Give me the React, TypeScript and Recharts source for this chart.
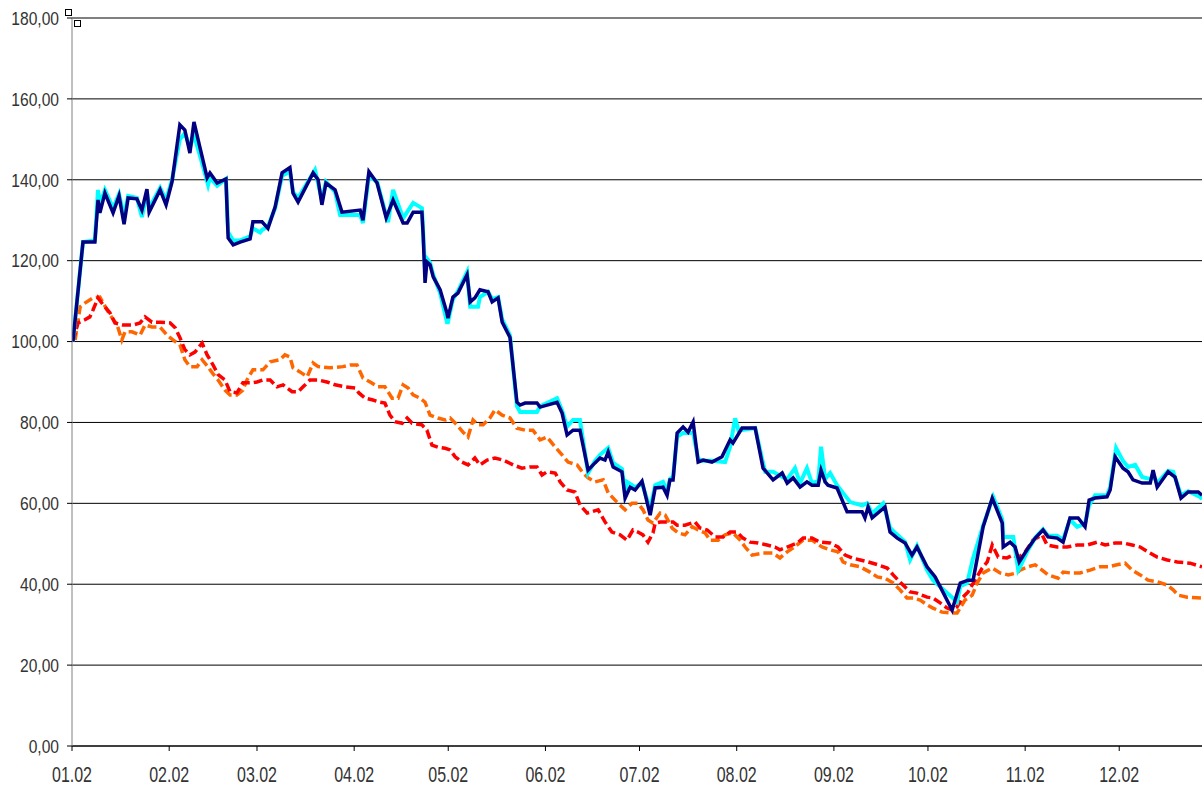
import React from 'react';
import { LineChart, Line, XAxis, YAxis, CartesianGrid } from 'recharts';

// x = day of year (0 = 1 Jan), value = index level
const monthStarts = [0, 31, 59, 90, 120, 151, 181, 212, 243, 273, 304, 334];
const monthLabels = ['01.02', '02.02', '03.02', '04.02', '05.02', '06.02', '07.02', '08.02', '09.02', '10.02', '11.02', '12.02'];
const yTicks = [0, 20, 40, 60, 80, 100, 120, 140, 160, 180];

const navyPoints: [number, number][] = [
  [0.3, 100], [3.5, 124.6], [7.3, 124.6], [8.3, 135], [8.9, 131.8], [10.5, 136.7], [13.1, 131.8], [15.0, 136], [16.6, 129], [17.9, 135.5],
  [20.7, 135.3], [22.3, 132.5], [23.9, 137.7], [24.6, 132], [28.1, 137.5], [30.0, 133.8], [31.9, 139.5], [34.4, 153.6], [36.0, 152.3], [37.6, 146.6],
  [38.9, 154.3], [40.8, 148], [43.1, 140.5], [44.0, 141.7], [46.3, 139.2], [49.1, 140.2], [49.8, 125.6], [51.4, 123.9], [53.6, 124.6], [56.8, 125.4],
  [57.7, 129.6], [60.6, 129.6], [62.5, 128], [64.8, 133.3], [67.0, 141.7], [69.5, 143], [70.5, 136.7], [72.1, 134.5], [76.9, 141.7], [78.5, 140],
  [79.7, 133.8], [81.0, 139.2], [83.9, 137.5], [86.1, 132], [91.9, 132.5], [92.8, 130], [94.7, 142], [97.3, 139.2], [100.2, 130.6], [102.4, 135],
  [105.6, 129.3], [106.9, 129.3], [108.8, 132], [111.6, 132], [112.0, 126.4], [112.6, 114.5], [113.2, 119.7], [114.2, 119], [115.2, 116], [117.4, 112.8],
  [119.6, 107], [119.9, 105.8], [121.5, 111], [123.1, 112], [126.0, 116.5], [127.0, 109.8], [128.5, 110.8], [130.1, 112.8], [132.7, 112.3], [134.0, 109.8],
  [135.9, 110.8], [137.2, 104.8], [139.7, 101], [141.9, 85], [142.9, 84.3], [144.5, 84.8], [148.3, 84.8], [149.3, 83.8], [154.7, 85], [156.3, 82.3],
  [157.9, 76.9], [159.8, 78.1], [162.0, 78.1], [164.6, 68.2], [166.8, 70], [168.4, 71.2], [170.0, 70.7], [171.0, 72.7], [172.6, 69], [175.4, 67.8],
  [176.4, 61.3], [178.0, 64], [179.6, 63.3], [181.8, 65.5], [184.4, 57.1], [186.0, 63.8], [188.5, 64], [189.8, 62], [190.7, 65.8], [191.7, 65.8],
  [193.0, 77.4], [194.9, 78.9], [196.5, 77.6], [198.1, 80.1], [199.7, 70.2], [201.3, 70.7], [204.1, 70.2], [207.3, 71.5], [209.9, 75.7], [210.8, 74.9],
  [213.7, 78.6], [217.9, 78.6], [220.4, 68.7], [223.6, 65.8], [226.5, 67.5], [228.1, 65], [230.0, 66.3], [232.2, 64], [234.4, 65.3], [236.0, 64.5],
  [238.0, 64.5], [238.9, 68.2], [240.2, 65.3], [241.1, 64.5], [244.0, 63.8], [247.2, 57.9], [252.0, 57.9], [252.9, 56.4], [253.9, 59.1], [255.2, 56.4],
  [259.3, 59.1], [260.9, 52.9], [263.2, 51.4], [265.7, 50.2], [267.9, 47.2], [269.5, 49.2], [272.7, 44.3], [275.3, 41.8], [280.7, 33.6], [283.3, 40.3],
  [285.8, 41], [287.4, 41], [290.6, 54.2], [293.5, 61.3], [296.7, 55.1], [297.0, 49.2], [299.2, 50.4], [300.8, 49.2], [302.1, 45.5], [304.6, 48.5],
  [307.2, 51.4], [309.7, 53.4], [311.3, 51.7], [314.2, 51.4], [316.1, 50.4], [318.3, 56.4], [320.9, 56.4], [323.1, 54.2], [324.4, 60.8], [326.3, 61.3],
  [330.1, 61.6], [331.1, 63.3], [332.7, 71.5], [335.2, 68.7], [336.8, 67.8], [338.4, 65.8], [341.3, 65], [343.9, 65], [344.8, 68.2], [346.1, 64],
  [349.6, 67.8], [351.8, 66.5], [353.7, 61.3], [356.0, 62.8], [359.2, 62.8], [360.4, 62],
];

const cyanPoints: [number, number][] = [
  [0.3, 100], [3.5, 124.6], [7.3, 125], [8.3, 137.5], [8.9, 134], [10.5, 137.5], [13.1, 133], [15.0, 136.5], [16.6, 131], [17.9, 136],
  [20.7, 135.5], [22.3, 130.8], [23.9, 137], [24.6, 133], [28.1, 138], [30.0, 135], [31.9, 140], [34.4, 150], [36.0, 151.5], [37.6, 148],
  [38.9, 151], [40.8, 146], [43.4, 138.7], [44.0, 140.5], [46.3, 138.5], [49.1, 140.2], [49.8, 127], [51.4, 125], [53.6, 125], [56.8, 126],
  [57.7, 128], [60.0, 127], [60.6, 127.6], [62.5, 128.5], [64.8, 133], [67.0, 141], [69.5, 142], [70.5, 137], [72.1, 135.5], [77.5, 142.4],
  [79.7, 135], [81.0, 139.5], [83.9, 137], [85.5, 131.3], [91.9, 131.3], [92.8, 129.3], [94.7, 141], [97.3, 139.5], [100.8, 129.5], [102.4, 137.5],
  [105.6, 130.5], [108.8, 134.3], [111.6, 133], [112.0, 127], [112.6, 118], [113.2, 120.5], [114.2, 119.5], [115.2, 116.5], [117.4, 112],
  [119.6, 104.8], [119.9, 104.8], [121.5, 110.5], [123.1, 112.5], [126.0, 117.2], [127.0, 108.6], [129.5, 108.6], [130.1, 111], [132.7, 112.3], [134.0, 110.5],
  [135.9, 111], [137.2, 105.5], [139.7, 101.5], [141.9, 84], [142.9, 82.6], [148.3, 82.6], [149.3, 84], [154.7, 86], [156.3, 83],
  [157.9, 79], [159.8, 80.6], [162.0, 80.6], [164.6, 67.5], [166.8, 70.5], [168.4, 72], [171.0, 73.7], [172.6, 70], [175.4, 68.5],
  [176.4, 62.5], [177.0, 65.3], [179.6, 64], [181.8, 65], [184.4, 58.5], [186.0, 64.5], [188.5, 65.3], [189.8, 63], [190.7, 66], [191.7, 66.5],
  [193.0, 76.5], [194.9, 77.4], [198.1, 77.4], [199.7, 71], [201.3, 70.5], [204.1, 70.5], [208.3, 70.2], [209.9, 74], [211.5, 81], [212.6, 78],
  [217.9, 78.6], [220.4, 70], [221.1, 67.8], [223.6, 67.8], [226.5, 66.5], [228.1, 66], [230.6, 68.7], [232.2, 65], [234.4, 68.7], [236.0, 65],
  [238.0, 65.5], [238.9, 74], [240.2, 66], [241.8, 67.5], [244.0, 64.5], [248.2, 60.3], [252.0, 59.5], [253.6, 60], [255.2, 57.5],
  [258.7, 60], [260.9, 54], [262.5, 52.7], [265.7, 50.5], [267.3, 46], [269.5, 49.5], [272.7, 43.5], [274.6, 41], [282.3, 35.6], [283.3, 39.5],
  [285.5, 40.3], [287.4, 46.5], [290.6, 54.5], [293.8, 61.6], [296.7, 56], [297.0, 51.7], [300.2, 51.7], [301.8, 43.5], [302.4, 44.3], [304.6, 48],
  [307.2, 51.5], [309.7, 53.6], [311.3, 52], [314.2, 52], [316.1, 51], [318.3, 56], [320.6, 54.2], [323.1, 55], [324.4, 59.5], [326.3, 62],
  [330.1, 62], [331.1, 64], [333.0, 73.7], [335.2, 70.5], [336.8, 69], [339.1, 69.5], [341.3, 66.5], [343.9, 66], [344.8, 67], [346.1, 65],
  [349.6, 68], [351.2, 67.8], [353.7, 62], [356.0, 63], [359.8, 61.6], [360.4, 61],
];

const redPoints: [number, number][] = [
  [0.3, 100], [1.9, 104.6], [4.1, 105.4], [5.7, 106.1], [6.7, 107.8], [8.3, 110.8], [9.9, 109.1], [12.1, 107.1], [13.7, 104.6], [16.3, 104.1],
  [19.5, 104.1], [21.7, 104.6], [23.3, 106.1], [25.5, 104.8], [28.1, 104.8], [31.3, 104.6], [32.9, 103.4], [34.4, 101], [36.0, 98], [37.6, 96.7],
  [39.2, 97.4], [41.5, 99.6], [43.1, 96.7], [45.0, 94.2], [46.6, 91.8], [48.8, 90.5], [50.4, 87.6], [52.6, 87.3], [54.5, 89.8], [57.4, 89.8],
  [59.0, 90], [60.9, 90.5], [63.2, 90.5], [65.4, 88.8], [67.3, 89.3], [70.2, 87.6], [72.1, 87.6], [73.7, 88.8], [75.9, 90.5], [78.5, 90.5],
  [81.3, 90], [83.9, 89.3], [87.1, 88.8], [90.3, 88.5], [91.5, 87.3], [93.5, 86], [95.7, 85.6], [98.2, 85], [99.8, 84.8], [101.4, 81.8],
  [103.0, 80.2], [105.3, 79.8], [106.9, 81.1], [108.5, 79.8], [111.6, 79.4], [113.2, 78.1], [114.8, 74.4], [116.7, 73.9], [119.0, 73.6], [120.6, 73.2],
  [122.2, 71.5], [124.4, 70.2], [126.3, 69.5], [128.5, 71.2], [130.1, 69.5], [132.4, 70.7], [134.9, 71.2], [137.5, 70.7], [140.7, 69.5], [143.5, 68.7],
  [146.1, 69], [148.3, 69], [149.9, 67], [151.5, 67.8], [154.1, 67.5], [155.7, 65.3], [157.9, 63.3], [160.4, 62.8], [162.0, 59.6], [164.3, 57.6],
  [167.8, 58.4], [170.0, 55.4], [172.2, 52.9], [174.8, 52.2], [177.0, 50.9], [178.9, 53.4], [180.5, 52.9], [182.1, 52.2], [183.7, 50.4], [185.3, 52.7],
  [186.0, 55.1], [187.6, 55.4], [191.7, 55.4], [193.0, 54.6], [195.5, 54.6], [198.7, 55.4], [200.3, 53.9], [202.6, 53.4], [205.1, 51.7], [207.7, 51.7],
  [209.9, 52.9], [212.1, 52.9], [214.0, 51.4], [216.3, 50.4], [218.8, 50.2], [221.7, 49.7], [224.2, 49.2], [225.8, 48.5], [228.1, 49.2], [231.3, 50.2],
  [233.2, 51.4], [236.0, 51.4], [238.6, 50.4], [241.8, 50.2], [244.3, 49.2], [246.6, 47.2], [248.8, 46.5], [251.4, 46], [254.0, 45.5], [257.1, 44.8],
  [260.0, 44], [261.9, 42.3], [263.5, 41], [265.7, 39.3], [267.3, 38.1], [269.5, 37.8], [272.7, 36.8], [274.6, 36.6], [276.9, 35.4], [279.1, 34.1],
  [280.7, 33.6], [282.3, 34.4], [283.9, 36.6], [285.8, 38.1], [288.0, 41], [290.3, 44], [291.9, 45.5], [293.5, 49.7], [295.4, 46.7], [298.2, 46.5],
  [300.2, 47.2], [301.8, 46.5], [304.0, 48], [306.5, 50.9], [309.4, 52.2], [311.0, 49.7], [314.2, 49.2], [317.4, 49.2], [320.6, 49.7], [323.8, 49.7],
  [327.0, 50.4], [329.5, 49.7], [332.7, 50.2], [335.2, 50.2], [338.1, 49.7], [340.7, 49.2], [343.2, 48], [346.1, 46.7], [349.3, 46], [352.5, 45.5],
  [356.6, 45.2], [360.4, 44.3],
];

const orangePoints: [number, number][] = [
  [1.0, 100.4], [2.6, 108.6], [4.1, 109.5], [6.7, 110.8], [8.9, 111], [12.1, 106.6], [14.4, 104.1], [15.9, 100.4], [16.9, 102.4], [19.1, 102.4],
  [21.7, 101.6], [23.3, 104.1], [25.5, 103.6], [28.1, 103.6], [30.3, 101.6], [32.2, 100.4], [34.4, 99.2], [36.0, 95.5], [37.6, 93.8], [39.9, 93.8],
  [41.5, 95.5], [43.1, 94], [45.0, 92], [46.6, 90.5], [48.8, 88], [50.4, 86.8], [52.6, 86.8], [54.5, 88], [55.8, 90.5], [57.7, 93],
  [60.9, 93], [63.2, 95], [66.3, 95.5], [67.9, 96.7], [69.5, 96.2], [70.5, 93.5], [72.7, 92.5], [75.0, 91.3], [76.9, 94.7], [78.5, 93.8],
  [82.3, 93.5], [86.4, 93.8], [88.7, 94.2], [90.9, 94.2], [92.8, 91], [95.1, 90], [97.6, 88.8], [99.8, 88.8], [102.1, 86], [104.0, 86],
  [105.6, 89.3], [107.2, 88.5], [108.8, 86.8], [111.0, 86], [112.6, 85], [114.2, 81.8], [116.7, 81.1], [119.0, 80.6], [120.6, 81.1], [122.8, 79.4],
  [124.7, 77.6], [126.3, 76.4], [127.9, 80.6], [129.5, 79.4], [131.1, 79.4], [133.3, 81.1], [134.9, 83.1], [137.2, 81.8], [139.7, 81.1], [141.9, 78.6],
  [144.5, 78.1], [147.0, 78.1], [149.3, 75.7], [151.5, 76.4], [154.1, 73.9], [156.3, 72], [158.2, 70.2], [161.1, 69.5], [162.7, 67.8], [164.6, 66.3],
  [166.8, 65.3], [169.4, 65.8], [171.0, 62.6], [173.8, 60.3], [176.4, 58.4], [178.6, 60], [180.5, 60], [182.1, 58.4], [183.7, 55.9], [185.3, 55.1],
  [187.6, 57.6], [189.2, 57.1], [191.4, 53.9], [193.3, 52.7], [195.5, 52.2], [197.8, 54.2], [199.7, 53.4], [201.9, 52.7], [203.5, 50.9], [206.1, 50.9],
  [208.3, 52.2], [210.8, 52.7], [213.1, 50.9], [214.7, 49.2], [216.9, 47.2], [220.4, 47.7], [223.6, 47.7], [225.8, 46.5], [228.1, 48], [230.0, 49],
  [233.2, 50.9], [236.0, 50.9], [239.2, 49.2], [241.8, 48.5], [244.3, 48], [245.9, 45.5], [248.2, 44.8], [251.4, 44.3], [254.5, 43], [256.8, 41.8],
  [259.3, 41.5], [261.9, 40.3], [264.1, 38.6], [266.3, 36.6], [268.3, 36.6], [270.5, 36.1], [272.7, 34.9], [274.6, 34.1], [277.5, 33.1], [280.1, 32.9],
  [282.3, 32.9], [284.8, 36.1], [287.1, 37.3], [288.7, 40.3], [290.6, 42.8], [293.5, 44], [296.0, 42.8], [298.6, 42.3], [301.4, 42.8], [302.4, 43.5],
  [304.9, 44.3], [307.2, 44.8], [309.4, 43.5], [311.3, 42.3], [314.5, 41.5], [316.1, 43], [318.3, 42.8], [321.5, 42.8], [324.7, 43.5], [327.9, 44.3],
  [330.5, 44.3], [333.3, 44.8], [335.9, 45.2], [338.1, 43.5], [340.7, 42.3], [343.2, 41], [346.1, 40.6], [349.3, 39.8], [351.2, 38.6], [352.8, 37.3],
  [355.7, 36.8], [360.4, 36.6],
];

const toRows = (pts: [number, number][]) => pts.map(([d, v]) => ({ d, v }));

const FONT = '"Liberation Sans", Arial, sans-serif';
const TEXT = '#333333';

const XTick = (props: any) => {
  const { x, y, payload } = props;
  const i = monthStarts.indexOf(payload.value);
  return (
    <g transform={`translate(${x},${y + 29}) scale(1,1.35)`}>
      <text x={0} y={0} textAnchor="middle" fontSize={16} fontFamily={FONT} fill={TEXT}>
        {monthLabels[i] ?? ''}
      </text>
    </g>
  );
};

const YTick = (props: any) => {
  const { y, payload } = props;
  const label = Number(payload.value).toFixed(2).replace('.', ',');
  return (
    <g transform={`translate(59,${y + 6.8}) scale(1,1.22)`}>
      <text x={0} y={0} textAnchor="end" fontSize={15.6} fontFamily={FONT} fill={TEXT}>
        {label}
      </text>
    </g>
  );
};

export default function App() {
  return (
    <div style={{ position: 'absolute', left: 0, top: 0, width: 1202, height: 787, background: '#fff', overflow: 'hidden' }}>
      <LineChart width={1202} height={787} margin={{ top: 18, right: 0, left: 0, bottom: 0 }}>
        <CartesianGrid vertical={false} stroke="#000" strokeWidth={1} />
        <XAxis
          type="number"
          dataKey="d"
          domain={[0, 360.4]}
          allowDataOverflow
          ticks={monthStarts}
          interval={0}
          height={41}
          tickSize={5}
          axisLine={{ stroke: '#000' }}
          tickLine={{ stroke: '#000' }}
          tick={<XTick />}
        />
        <YAxis
          type="number"
          domain={[0, 180]}
          ticks={yTicks}
          interval={0}
          width={72}
          tickSize={5}
          axisLine={{ stroke: '#808080' }}
          tickLine={{ stroke: '#000' }}
          tick={<YTick />}
        />
        <Line data={toRows(orangePoints)} dataKey="v" type="linear" stroke="#FF6600" strokeWidth={3.5} strokeDasharray="9 4" dot={false} isAnimationActive={false} />
        <Line data={toRows(redPoints)} dataKey="v" type="linear" stroke="#FF0000" strokeWidth={3.5} strokeDasharray="9 4" dot={false} isAnimationActive={false} />
        <Line data={toRows(cyanPoints)} dataKey="v" type="linear" stroke="#00FFFF" strokeWidth={4} dot={false} isAnimationActive={false} />
        <Line data={toRows(navyPoints)} dataKey="v" type="linear" stroke="#000080" strokeWidth={3.5} dot={false} isAnimationActive={false} />
      </LineChart>
      <div style={{ position: 'absolute', left: 65, top: 9, width: 5, height: 5, border: '1px solid #000', background: '#fff' }} />
      <div style={{ position: 'absolute', left: 74, top: 20, width: 5, height: 5, border: '1px solid #000', background: '#fff' }} />
    </div>
  );
}
